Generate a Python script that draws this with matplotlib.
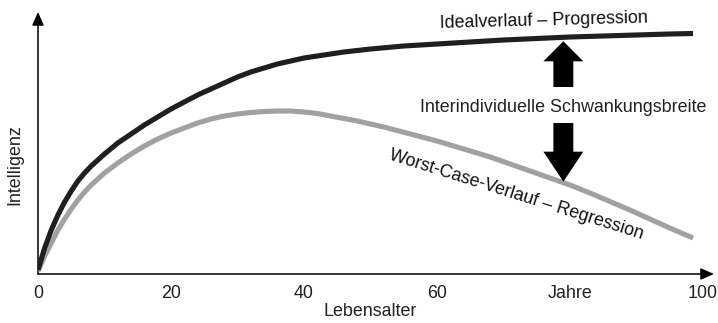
import numpy as np
import matplotlib
matplotlib.use("Agg")
import matplotlib.pyplot as plt
from matplotlib.patches import FancyArrow

plt.rcParams["font.family"] = ["Liberation Sans", "DejaVu Sans"]

# Age (years) and relative intelligence level for the two trajectories
age_ideal = [0, 1, 2, 3, 4, 5, 6, 7, 8, 9, 10, 12, 14, 16, 18, 20, 22, 24, 26,
             28, 30, 32, 34, 36, 38, 40, 43, 46, 50, 55, 60, 65, 70, 75, 80,
             85, 90, 95, 98.5]
ideal = [4, 26, 44, 59, 72, 83, 93, 101, 108, 114, 120, 131, 140, 149, 157,
         165, 172, 179, 185, 191, 197, 202, 206, 210, 213, 216, 219, 222, 225,
         228, 230, 232, 234, 235.5, 237, 238, 239, 240, 240.5]

age_worst = [0, 1, 2, 3, 4, 5, 6, 7, 8, 9, 10, 12, 14, 16, 18, 20, 22, 24, 26,
             28, 30, 32, 34, 36, 38, 40, 42, 44, 46, 48, 50, 52, 54, 56, 58,
             60, 62, 65, 68, 71, 74, 77, 80, 83, 86, 89, 92, 95, 98.5]
worst = [3, 18, 31, 44, 55, 65, 74, 82, 89, 95, 101, 111, 120, 128, 135, 141,
         146, 151, 155, 158, 160, 161.5, 162.5, 163, 163, 162, 160.5, 158,
         155.5, 153, 150, 147, 143.5, 140, 136.5, 133, 129, 123, 117, 110,
         103, 96, 89, 81, 72.5, 64, 55, 46, 36]

tick_pos = [0, 20, 40, 60, 80, 100]
tick_labels = ["0", "20", "40", "60", "Jahre", "100"]

FS = 12.9
TXT = "#222222"

W, H = 718, 323
fig = plt.figure(figsize=(W / 100, H / 100), dpi=100)
left, right, bottom, top = 38, 714, 274, 12
ax = fig.add_axes([left / W, 1 - bottom / H, (right - left) / W, (bottom - top) / H])
ax.set_xlim(0, (right - left) / 6.65)
ax.set_ylim(0, bottom - top)

for s in ax.spines.values():
    s.set_visible(False)

# Axes drawn as arrows
arrow_kw = dict(arrowstyle="-|>,head_length=0.8,head_width=0.35", color="black",
                lw=1.1, shrinkA=0, shrinkB=0)
ax.annotate("", xy=(1, 0), xytext=(0, 0), xycoords="axes fraction",
            arrowprops=arrow_kw, annotation_clip=False)
ax.annotate("", xy=(0, 1), xytext=(0, 0), xycoords="axes fraction",
            arrowprops=arrow_kw, annotation_clip=False)

ax.plot(age_worst, worst, color="#a0a2a2", lw=3.7, solid_capstyle="butt",
        solid_joinstyle="round", zorder=3)
ax.plot(age_ideal, ideal, color="#1e1f20", lw=3.7, solid_capstyle="butt",
        solid_joinstyle="round", zorder=4)

ax.set_xticks(tick_pos)
ax.set_xticklabels(tick_labels, fontsize=FS, color=TXT)
ax.tick_params(axis="x", length=0, pad=8)
ax.set_yticks([])

fig.text(370 / W, 1 - 311 / H, "Lebensalter", ha="center", va="center",
         fontsize=FS, color=TXT)
fig.text(15 / W, 1 - 165 / H, "Intelligenz", ha="center", va="center",
         rotation=90, fontsize=FS, color=TXT)

# Range between the two trajectories at one age
x_arr = 79
y_top = np.interp(x_arr, age_ideal, ideal)
y_bot = np.interp(x_arr, age_worst, worst)
y_mid = 167
ax.add_patch(FancyArrow(x_arr, y_mid + 20, 0, (y_top - 4) - (y_mid + 20),
                        width=3.0, head_width=6.0, head_length=20,
                        length_includes_head=True, color="black", lw=0, zorder=5))
ax.add_patch(FancyArrow(x_arr, y_mid - 16, 0, (y_bot + 1) - (y_mid - 16),
                        width=3.0, head_width=6.0, head_length=30,
                        length_includes_head=True, color="black", lw=0, zorder=5))
ax.text(x_arr, y_mid, "Interindividuelle Schwankungsbreite", ha="center",
        va="center", fontsize=FS, color=TXT)

ax.text((544 - 38) / 6.65, 274 - 21, "Idealverlauf – Progression",
        ha="center", va="center", rotation=1.5, fontsize=FS, color="#111111")
ax.text((516 - 38) / 6.65, 274 - 195, "Worst-Case-Verlauf – Regression",
        ha="center", va="center", rotation=-17.5, fontsize=FS, color="#111111")

fig.savefig("out.png", dpi=100)
